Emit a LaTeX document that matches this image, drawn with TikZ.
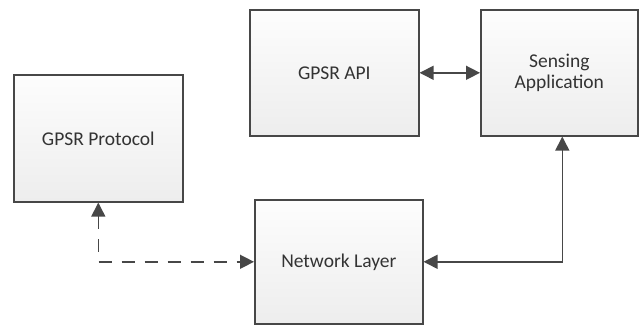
\documentclass[tikz,border=0pt]{standalone}
\usepackage{fontspec}
\setmainfont{Carlito}
\usetikzlibrary{arrows.meta,shadows}
\definecolor{edge}{HTML}{474747}
\definecolor{boxtop}{HTML}{FDFDFD}
\definecolor{boxbot}{HTML}{EDEDED}
\tikzset{
  x=1pt, y=-1pt,
  block/.style={draw=edge, line width=1.6pt, top color=boxtop, bottom color=boxbot,
    drop shadow={shadow xshift=1.5pt, shadow yshift=-1.5pt, opacity=0.25, fill=gray},
    font=\fontsize{19.5}{21}\selectfont, text=black!80, align=center, anchor=north west, inner sep=0pt},
  link/.style={draw=edge, line width=1.5pt, {Triangle[length=14pt,width=14pt]}-{Triangle[length=14pt,width=14pt]}},
}
\begin{document}
\begin{tikzpicture}
\useasboundingbox (0,0) rectangle (640,325);
\node[block, minimum width=169pt, minimum height=127pt] (proto) at (13,74) {GPSR Protocol};
\node[block, minimum width=169pt, minimum height=126pt] (api) at (249,9) {GPSR API};
\node[block, minimum width=157pt, minimum height=126pt] (sense) at (480,9) {Sensing\\Application};
\node[block, minimum width=168pt, minimum height=124pt] (net) at (254,199) {Network Layer};
\draw[link] (api.east) -- (sense.west |- api.east);
\draw[link] (net.east) -| ([xshift=3pt]sense.south);
\draw[link, dash pattern=on 13pt off 10pt] (proto.south) |- (net.west);
\end{tikzpicture}
\end{document}
